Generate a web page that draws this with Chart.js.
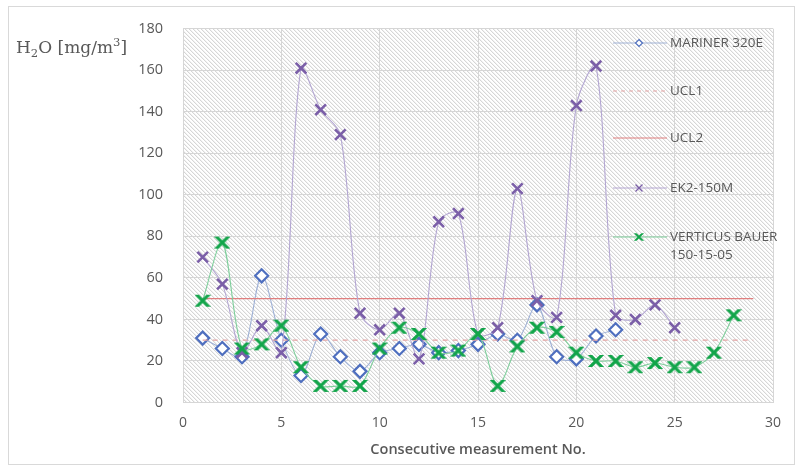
<!DOCTYPE html>
<html>
<head>
<meta charset="utf-8">
<script src="https://cdn.jsdelivr.net/npm/chart.js@4.4.1/dist/chart.umd.min.js"></script>
<style>
  html, body { margin: 0; padding: 0; background: #ffffff; }
  #wrap { position: relative; width: 803px; height: 472px; }
  #ytitle {
    position: absolute; left: 16px; top: 37px;
    font-family: "DejaVu Serif", "Liberation Serif", serif;
    font-size: 17px; color: #595959; white-space: nowrap; line-height: 20px;
  }
  #ytitle sub, #ytitle sup { font-size: 0.68em; line-height: 0; }
</style>
</head>
<body>
<div id="wrap">
  <canvas id="chart" width="803" height="472"></canvas>
  <div id="ytitle">H<sub>2</sub>O [mg/m<sup>3</sup>]</div>
</div>
<script>
// Measurement numbers (x axis)
const measurementNo = [1, 2, 3, 4, 5, 6, 7, 8, 9, 10, 11, 12, 13, 14, 15, 16, 17, 18, 19, 20, 21, 22, 23, 24, 25, 26, 27, 28];

// H2O readings per instrument [mg/m3]
const mariner320E = [31, 26, 22, 61, 30, 13, 33, 22, 15, 24, 26, 28, 24, 25, 28, 33, 30, 47, 22, 21, 32, 35];
const ek2150M = [70, 57, 24, 37, 24, 161, 141, 129, 43, 35, 43, 21, 87, 91, 33, 36, 103, 49, 41, 143, 162, 42, 40, 47, 36];
const verticusBauer = [49, 77, 26, 28, 37, 17, 8, 8, 8, 26, 36, 33, 24, 25, 33, 8, 27, 36, 34, 24, 20, 20, 17, 19, 17, 17, 24, 42];

// Control limits and the measurement span they cover
const ucl1 = 30;
const ucl2 = 50;
const limitSpan = [1, 29];

// Axis ticks
const xTicks = [0, 5, 10, 15, 20, 25, 30];
const yTicks = [0, 20, 40, 60, 80, 100, 120, 140, 160, 180];

const pairs = (vals) => vals.map((v, i) => ({ x: measurementNo[i], y: v }));
const limitLine = (v) => limitSpan.map((x) => ({ x: x, y: v }));

const TEXT = '#595959';
const GRID = '#d6d6d6';

// Marker: bold X cut flat at top and bottom
function starMarker(color, size, lw) {
  const c = document.createElement('canvas');
  c.width = size; c.height = size;
  const g = c.getContext('2d');
  const m = size / 2, h = size * 0.36, cut = size * 0.37;
  g.beginPath();
  g.rect(0, m - cut, size, 2 * cut);
  g.clip();
  g.strokeStyle = color; g.lineWidth = lw; g.lineCap = 'square';
  g.beginPath();
  g.moveTo(m - h, m - h); g.lineTo(m + h, m + h);
  g.moveTo(m + h, m - h); g.lineTo(m - h, m + h);
  g.stroke();
  return c;
}
const greenStar = starMarker('#12a54a', 16, 3.2);
const greenStarSmall = starMarker('#12a54a', 10, 2);

// Diagonal hatch tile for the plot background
function hatchPattern(ctx) {
  const t = document.createElement('canvas');
  t.width = 4; t.height = 4;
  const g = t.getContext('2d');
  const img = g.createImageData(4, 4);
  for (let i = 0; i < 16; i++) {
    img.data[i * 4] = 255; img.data[i * 4 + 1] = 255; img.data[i * 4 + 2] = 255; img.data[i * 4 + 3] = 255;
  }
  for (let i = 0; i < 4; i++) {
    const p = (i * 4 + i) * 4;
    img.data[p] = 214; img.data[p + 1] = 214; img.data[p + 2] = 214;
    const q = (i * 4 + ((i + 1) % 4)) * 4;
    img.data[q] = 242; img.data[q + 1] = 242; img.data[q + 2] = 242;
  }
  g.putImageData(img, 0, 0);
  return ctx.createPattern(t, 'repeat');
}

const backdrop = {
  id: 'backdrop',
  beforeDraw(chart) {
    const { ctx, chartArea: a } = chart;
    ctx.save();
    ctx.fillStyle = '#ffffff';
    ctx.fillRect(0, 0, chart.width, chart.height);
    ctx.strokeStyle = '#d9d9d9';
    ctx.lineWidth = 1;
    ctx.strokeRect(8.5, 6.5, 786, 458);
    ctx.fillStyle = hatchPattern(ctx);
    ctx.fillRect(a.left, a.top, a.right - a.left, a.bottom - a.top);
    ctx.restore();
  }
};

const legendItems = [
  { label: ['MARINER 320E'], color: '#9fb1d6', y: 43, marker: 'diamond', markerColor: '#4f6fbf' },
  { label: ['UCL1'], color: '#e3a3a3', y: 91, dash: [4, 4] },
  { label: ['UCL2'], color: '#e07f7f', y: 138 },
  { label: ['EK2-150M'], color: '#b3a6d2', y: 188, marker: 'x', markerColor: '#7b5fa8' },
  { label: ['VERTICUS BAUER', '150-15-05'], color: '#7fcf9c', y: 237, marker: 'star', markerColor: '#12a54a' }
];

const insetLegend = {
  id: 'insetLegend',
  afterDraw(chart) {
    const ctx = chart.ctx;
    ctx.save();
    const x0 = 613, x1 = 667, tx = 670, mx = 639;
    legendItems.forEach((it) => {
      ctx.strokeStyle = it.color;
      ctx.lineWidth = 1.2;
      ctx.setLineDash(it.dash || []);
      ctx.beginPath();
      ctx.moveTo(x0, it.y); ctx.lineTo(x1, it.y);
      ctx.stroke();
      ctx.setLineDash([]);
      if (it.marker === 'diamond') {
        ctx.fillStyle = '#ffffff';
        ctx.strokeStyle = it.markerColor; ctx.lineWidth = 1.2;
        ctx.beginPath();
        ctx.moveTo(mx, it.y - 3.5); ctx.lineTo(mx + 3.5, it.y); ctx.lineTo(mx, it.y + 3.5); ctx.lineTo(mx - 3.5, it.y);
        ctx.closePath(); ctx.fill(); ctx.stroke();
      } else if (it.marker === 'x') {
        ctx.strokeStyle = it.markerColor; ctx.lineWidth = 1.3;
        ctx.beginPath();
        ctx.moveTo(mx - 3.5, it.y - 3.5); ctx.lineTo(mx + 3.5, it.y + 3.5);
        ctx.moveTo(mx + 3.5, it.y - 3.5); ctx.lineTo(mx - 3.5, it.y + 3.5);
        ctx.stroke();
      } else if (it.marker === 'star') {
        ctx.drawImage(greenStarSmall, mx - 5, it.y - 5);
      }
      ctx.fillStyle = TEXT;
      ctx.font = '13.5px "Open Sans", sans-serif';
      ctx.textBaseline = 'middle';
      ctx.textAlign = 'left';
      it.label.forEach((line, k) => ctx.fillText(line, tx, it.y + k * 18));
    });
    ctx.restore();
  }
};

new Chart(document.getElementById('chart'), {
  type: 'scatter',
  data: {
    datasets: [
      {
        label: 'MARINER 320E', data: pairs(mariner320E), showLine: true, order: 4,
        borderColor: '#9fb1d6', borderWidth: 1.1, tension: 0.3,
        pointStyle: 'rectRot', pointRadius: 6.5, pointHoverRadius: 6.5,
        pointBorderColor: '#4f6fbf', pointBackgroundColor: '#ffffff', pointBorderWidth: 2.2
      },
      {
        label: 'UCL1', data: limitLine(ucl1), showLine: true, order: 3,
        borderColor: '#e3a3a3', borderWidth: 1.2, borderDash: [5, 5], pointRadius: 0
      },
      {
        label: 'UCL2', data: limitLine(ucl2), showLine: true, order: 2,
        borderColor: '#e07f7f', borderWidth: 1.3, pointRadius: 0
      },
      {
        label: 'EK2-150M', data: pairs(ek2150M), showLine: true, order: 1,
        borderColor: '#b3a6d2', borderWidth: 1.1, tension: 0.3,
        pointStyle: 'crossRot', pointRadius: 7.5, pointHoverRadius: 7.5,
        pointBorderColor: '#7b5fa8', pointBorderWidth: 2.6
      },
      {
        label: 'VERTICUS BAUER 150-15-05', data: pairs(verticusBauer), showLine: true, order: 0,
        borderColor: '#7fcf9c', borderWidth: 1.1, tension: 0.3,
        pointStyle: greenStar, pointRadius: 7, pointHoverRadius: 7
      }
    ]
  },
  options: {
    responsive: false,
    animation: false,
    devicePixelRatio: 1,
    layout: { padding: { top: 25, right: 30, bottom: 0, left: 0 } },
    plugins: { legend: { display: false }, tooltip: { enabled: false } },
    scales: {
      x: {
        type: 'linear', min: 0, max: 30,
        afterBuildTicks: (s) => { s.ticks = xTicks.map((v) => ({ value: v })); },
        afterFit: (s) => { s.height = 69.5; },
        grid: { color: GRID, lineWidth: 1, drawTicks: false },
        border: { display: false },
        ticks: { color: TEXT, padding: 12, font: { family: '"Open Sans", sans-serif', size: 14 } },
        title: {
          display: true, text: 'Consecutive measurement No.', color: TEXT,
          font: { family: '"Open Sans", sans-serif', size: 14.5, weight: '600' },
          padding: { top: 0, bottom: 13 }
        }
      },
      y: {
        type: 'linear', min: 0, max: 180,
        afterBuildTicks: (s) => { s.ticks = yTicks.map((v) => ({ value: v })); },
        afterFit: (s) => { s.width = 183; },
        grid: { color: GRID, lineWidth: 1, drawTicks: false },
        border: { display: false },
        ticks: { color: TEXT, padding: 20, font: { family: '"Open Sans", sans-serif', size: 14.5 } }
      }
    }
  },
  plugins: [backdrop, insetLegend]
});
</script>
</body>
</html>
